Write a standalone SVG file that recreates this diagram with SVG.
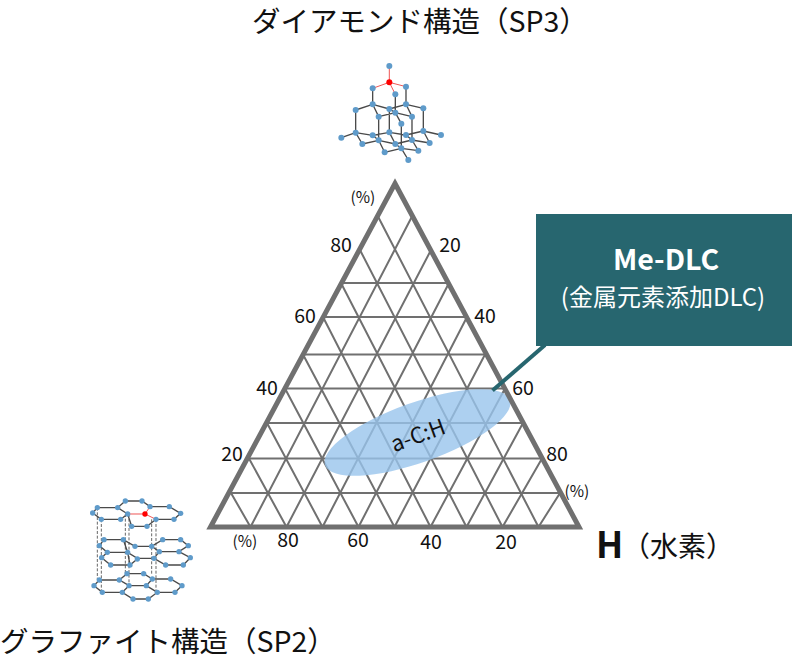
<svg xmlns="http://www.w3.org/2000/svg" width="792" height="660" viewBox="0 0 792 660">
<style>
text{font-family:"Noto Sans CJK JP","Noto Sans",sans-serif;fill:#111}
.t{font-size:28.500px;font-weight:400}
.n{font-size:19.500px;text-anchor:middle}
.p{font-size:15.500px;text-anchor:middle}
.g{stroke:#707070;stroke-width:2;fill:none}
.mb{stroke:#4a4a4a;stroke-width:4;fill:none}
.mr{stroke:#ee5555;stroke-width:3;fill:none}
.md{stroke:#666;stroke-width:3;stroke-dasharray:9 5;fill:none}
.mn circle{fill:#5f9bca}
</style>
<g id="title-sp3"><text class="t" x="252" y="32">ダイアモンド構造（SP3）</text></g>
<g id="title-sp2"><text class="t" x="0" y="652">グラファイト構造（SP2）</text></g>
<g id="diamond" transform="translate(320 50) scale(.3333)">
<path class="mb" d="M158 115V163M258 110V163M226 133V188M158 163L107 180M158 163L208 177M258 163L208 177M258 163L310 175M208 177L226 188M226 188L176 200M226 188L276 200M226 188L244 221M107 180V248M310 175V243M176 200V271M276 200V270M244 221V295M208 177V247M158 163L176 200M258 163L276 200M107 248L64 263M107 248L158 256M107 248L127 282M158 256L208 247M208 247L258 255M258 255L310 243M310 243L363 255M310 243L329 279M158 256L176 271M258 255L276 270M176 271L127 282M176 271L226 282M208 247L226 282M276 270L226 282M276 270L329 279M176 271L194 307M276 270L295 302M194 307L244 295M226 282L244 295M244 295L295 302M244 295L265 330"/>
<path class="mr" d="M208 48V97M208 97L158 115M208 97L258 110M208 97L226 133"/>
<g class="mn"><circle cx="208" cy="48" r="9"/><circle cx="158" cy="115" r="9"/><circle cx="258" cy="110" r="9"/><circle cx="226" cy="133" r="9"/><circle cx="158" cy="163" r="9"/><circle cx="258" cy="163" r="9"/><circle cx="107" cy="180" r="9"/><circle cx="208" cy="177" r="9"/><circle cx="310" cy="175" r="9"/><circle cx="226" cy="188" r="9"/><circle cx="176" cy="200" r="9"/><circle cx="276" cy="200" r="9"/><circle cx="244" cy="221" r="9"/><circle cx="107" cy="248" r="9"/><circle cx="158" cy="256" r="9"/><circle cx="208" cy="247" r="9"/><circle cx="258" cy="255" r="9"/><circle cx="310" cy="243" r="9"/><circle cx="64" cy="263" r="9"/><circle cx="363" cy="255" r="9"/><circle cx="127" cy="282" r="9"/><circle cx="176" cy="271" r="9"/><circle cx="276" cy="270" r="9"/><circle cx="226" cy="282" r="9"/><circle cx="329" cy="279" r="9"/><circle cx="194" cy="307" r="9"/><circle cx="244" cy="295" r="9"/><circle cx="295" cy="302" r="9"/><circle cx="265" cy="330" r="9"/></g>
<circle cx="208" cy="97" r="9" fill="#f00"/>
</g>
<g id="graphite" transform="translate(80 485) scale(.3333)">
<path class="md" d="M52 68V285M64 103V322M136 87V266M147 87V302M215 103V266M228 103V322"/>
<path class="mb" d="M38 84L52 68H113L136 48H186L210 65H268L302 85L282 103H228L201 124H155L143 87L122 103H64L38 84M113 68L143 87M58 182L72 164H130L165 184H215L248 164H302L325 182L297 200H238L222 220H172L143 202H82L58 182M130 164L143 202M215 184L238 200M65 218L82 202M65 218L92 240H150L172 222M143 202L150 240M222 220L257 240H310L331 218L297 200M42 302L58 285H118L147 302H199L217 282H272L306 302L285 322H232L205 342H159L127 322H67L42 302M118 285L141 266H191L217 282M127 322L147 302M199 302L232 322"/>
<path class="mr" d="M143 87H195L210 65M195 87L228 103"/>
<g class="mn"><circle cx="38" cy="84" r="8"/><circle cx="52" cy="68" r="8"/><circle cx="113" cy="68" r="8"/><circle cx="136" cy="48" r="8"/><circle cx="186" cy="48" r="8"/><circle cx="210" cy="65" r="8"/><circle cx="268" cy="65" r="8"/><circle cx="302" cy="85" r="8"/><circle cx="282" cy="103" r="8"/><circle cx="228" cy="103" r="8"/><circle cx="201" cy="124" r="8"/><circle cx="155" cy="124" r="8"/><circle cx="143" cy="87" r="8"/><circle cx="122" cy="103" r="8"/><circle cx="64" cy="103" r="8"/><circle cx="58" cy="182" r="8"/><circle cx="72" cy="164" r="8"/><circle cx="130" cy="164" r="8"/><circle cx="165" cy="184" r="8"/><circle cx="215" cy="184" r="8"/><circle cx="248" cy="164" r="8"/><circle cx="302" cy="164" r="8"/><circle cx="325" cy="182" r="8"/><circle cx="297" cy="200" r="8"/><circle cx="238" cy="200" r="8"/><circle cx="222" cy="220" r="8"/><circle cx="172" cy="222" r="8"/><circle cx="143" cy="202" r="8"/><circle cx="82" cy="202" r="8"/><circle cx="65" cy="218" r="8"/><circle cx="92" cy="240" r="8"/><circle cx="150" cy="240" r="8"/><circle cx="257" cy="240" r="8"/><circle cx="310" cy="240" r="8"/><circle cx="331" cy="218" r="8"/><circle cx="42" cy="302" r="8"/><circle cx="58" cy="285" r="8"/><circle cx="118" cy="285" r="8"/><circle cx="147" cy="302" r="8"/><circle cx="199" cy="302" r="8"/><circle cx="217" cy="282" r="8"/><circle cx="272" cy="282" r="8"/><circle cx="306" cy="302" r="8"/><circle cx="285" cy="322" r="8"/><circle cx="232" cy="322" r="8"/><circle cx="205" cy="342" r="8"/><circle cx="159" cy="342" r="8"/><circle cx="127" cy="322" r="8"/><circle cx="67" cy="322" r="8"/><circle cx="141" cy="266" r="8"/><circle cx="191" cy="266" r="8"/></g>
<circle cx="195" cy="87" r="8" fill="#f00"/>
</g>
<g id="grid">
<path class="g" d="M231 493H560M249 458.500H542M267 423H523M285 388.500H505M303 354.500H485M323 317H467M341 283H449"/>
<path class="g" d="M231 493L250.500 527M249 458.500L286.500 527M267 423L322.500 527M285 388.500L358.500 527M303 354.500L394.500 527M323 317L430.500 527M341 283L466.500 527M360 250L502.500 527M378 216.500L538.500 527"/>
<path class="g" d="M560 493L538.500 527M542 458.500L502.500 527M523 423L466.500 527M505 388.500L430.500 527M485 354.500L394.500 527M467 317L358.500 527M449 283L322.500 527M431 250L286.500 527M412 216.500L250.500 527"/>
</g>
<g id="a-c-h">
<ellipse cx="417.500" cy="432.500" rx="98" ry="30" transform="rotate(-19.500 417.500 432.500)" fill="#99c4ec" fill-opacity=".8"/>
<text x="418" y="443" font-size="22" text-anchor="middle" transform="rotate(-20 418 435)">a-C:H</text>
</g>
<path id="triangle" d="M395 183.500L579 527H210.500Z" fill="none" stroke="#707070" stroke-width="5"/>
<g id="connectors"><path d="M492.500 390.500L545 345" stroke="#27666f" stroke-width="4" fill="none"/></g>
<g id="me-dlc">
<rect x="536" y="214" width="256" height="132" fill="#27666f"/>
<text x="666" y="270" font-size="28.500" font-weight="700" text-anchor="middle" style="fill:#fff">Me-DLC</text>
<text x="663" y="306" font-size="24" text-anchor="middle" style="fill:#fff;font-weight:400">(金属元素添加DLC)</text>
</g>
<g id="labels">
<text class="n" x="341" y="252">80</text><text class="n" x="450" y="252">20</text>
<text class="n" x="305" y="323">60</text><text class="n" x="485" y="323">40</text>
<text class="n" x="267" y="395">40</text><text class="n" x="523" y="395">60</text>
<text class="n" x="232" y="461">20</text><text class="n" x="557" y="461">80</text>
<text class="n" x="288" y="547">80</text><text class="n" x="358" y="547">60</text><text class="n" x="431" y="549">40</text><text class="n" x="506" y="549">20</text>
<text class="p" x="363" y="203">(%)</text><text class="p" x="577" y="497">(%)</text><text class="p" x="245" y="547">(%)</text>
</g>
<g id="h-label"><text x="596" y="558" font-size="36" font-weight="700">H</text><text x="622" y="557" font-size="28">（水素）</text></g>
</svg>
